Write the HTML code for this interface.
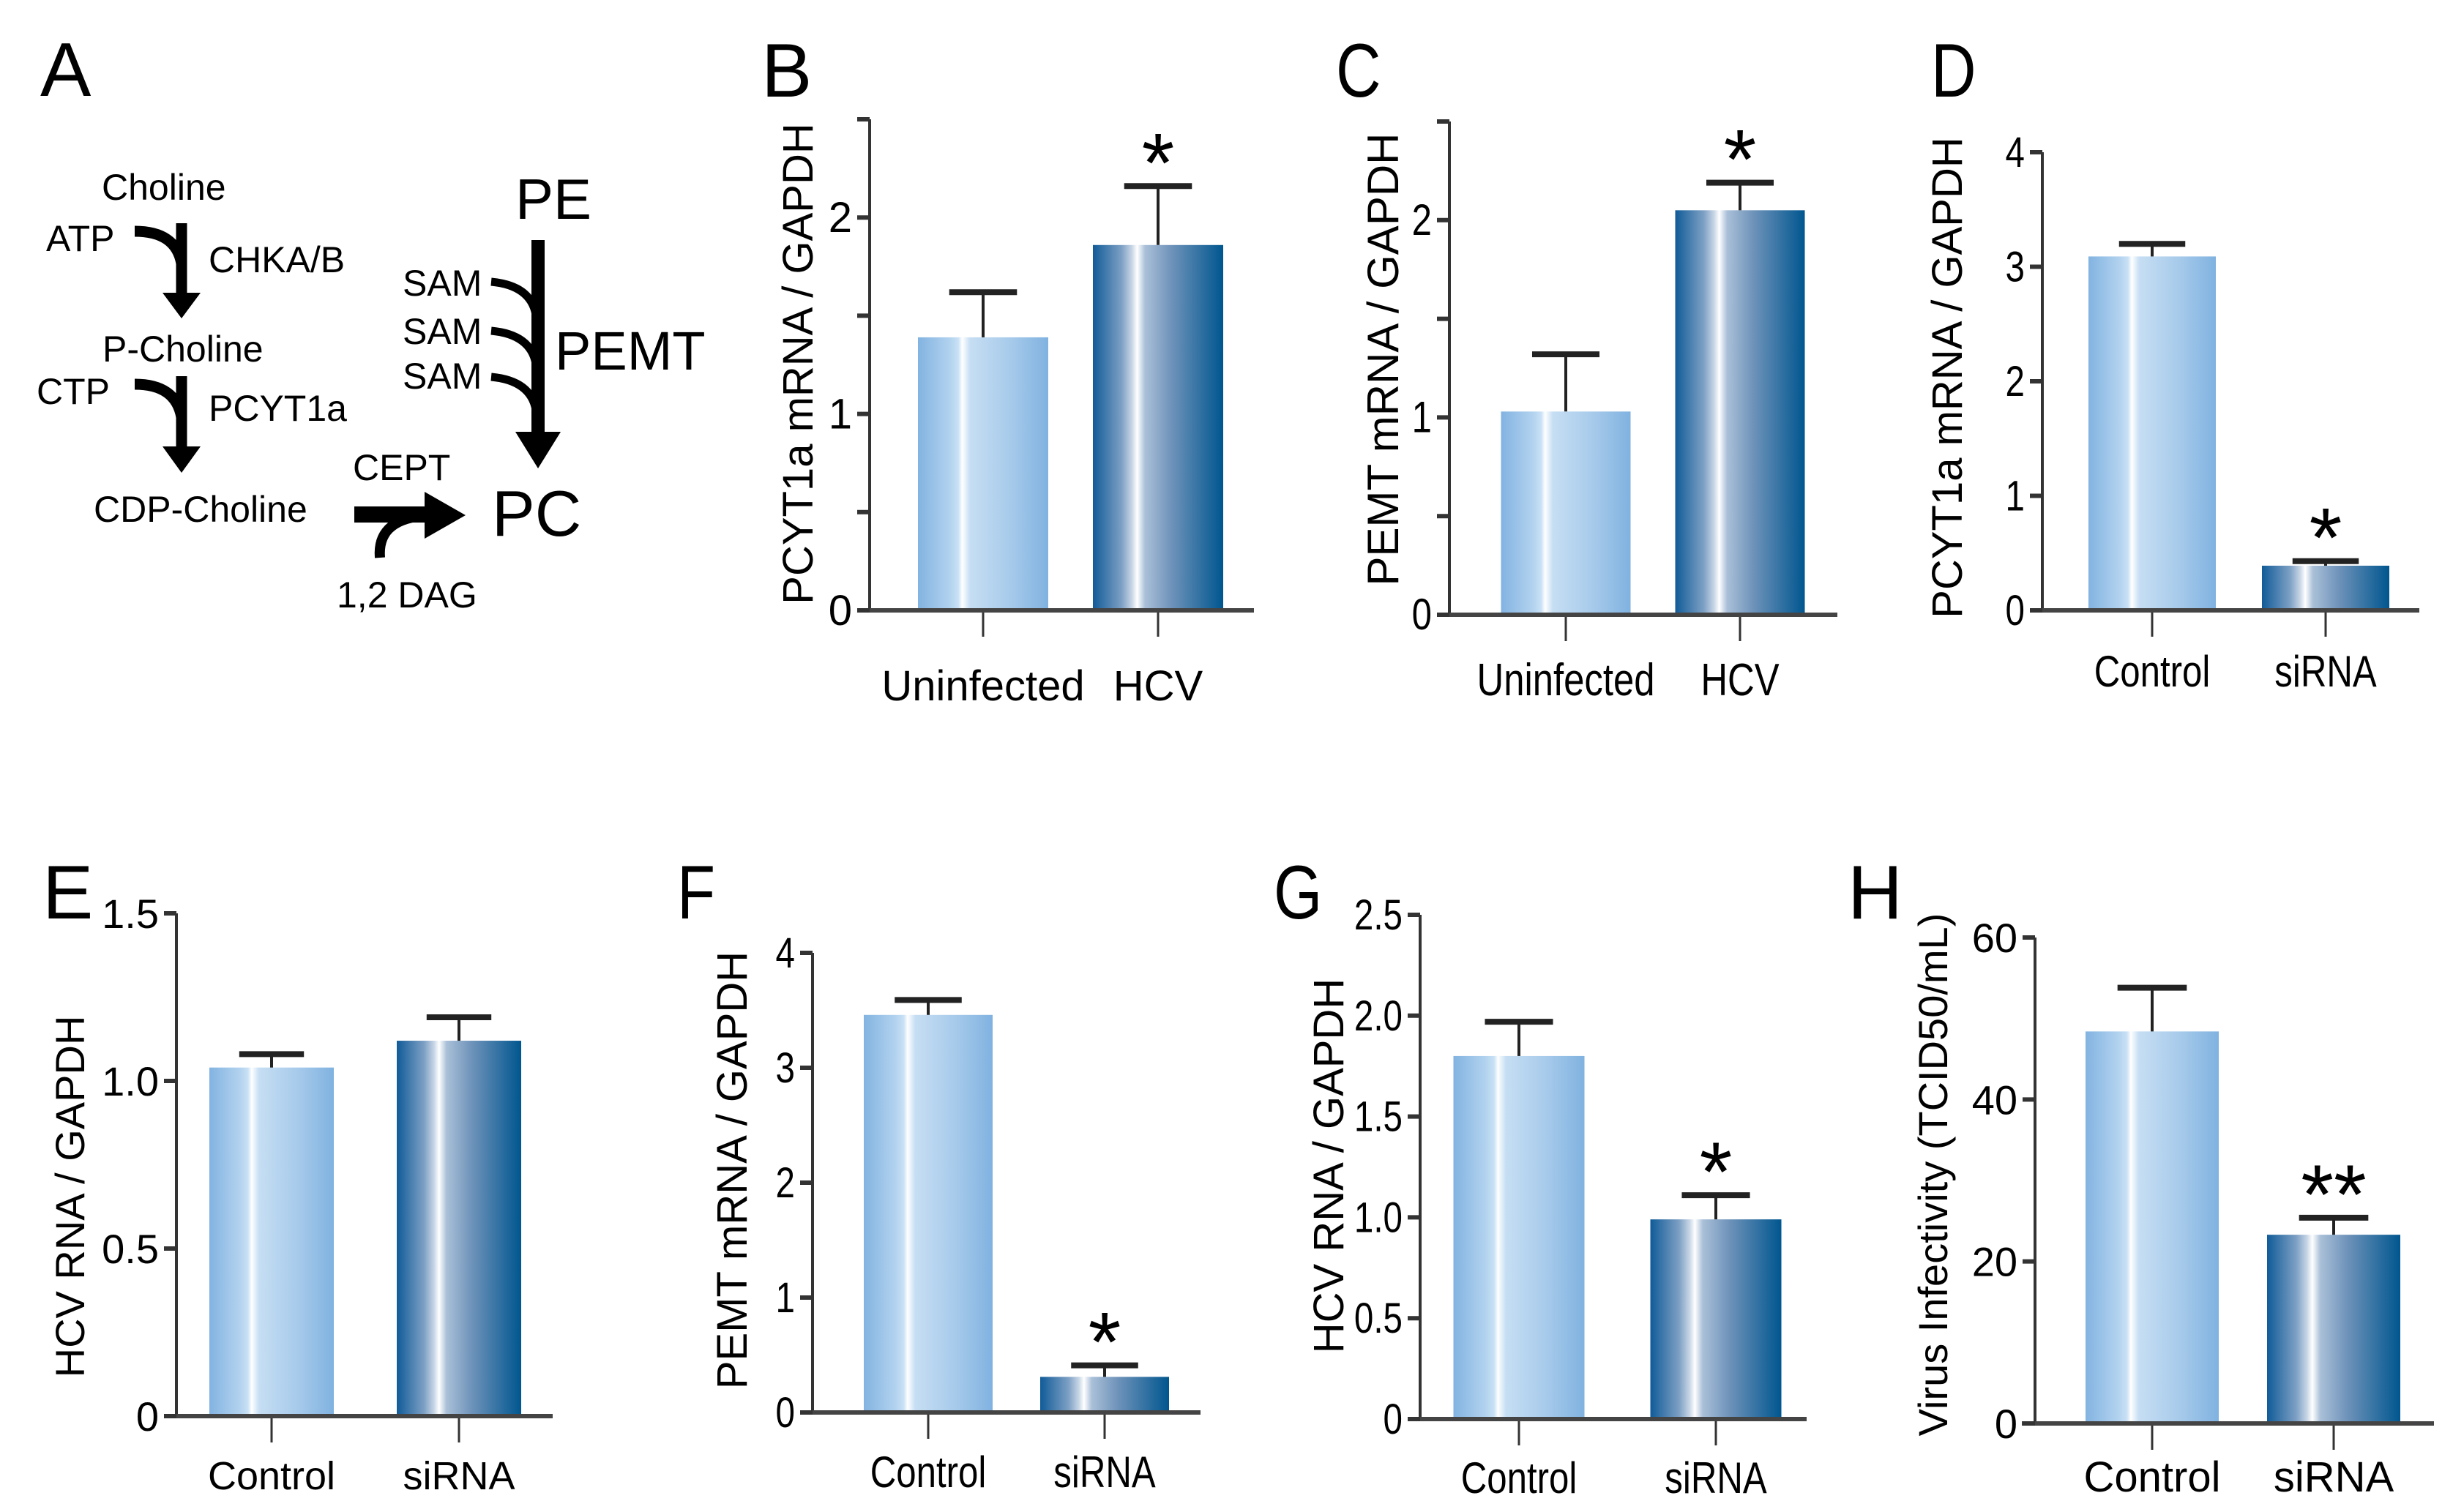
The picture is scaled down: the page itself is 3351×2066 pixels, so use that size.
<!DOCTYPE html>
<html><head><meta charset="utf-8"><style>
html,body{margin:0;padding:0;background:#fff;}
svg{display:block;font-family:"Liberation Sans",sans-serif;}
</style></head><body>
<svg id="fig" width="3351" height="2066" viewBox="0 0 3351 2066" xmlns="http://www.w3.org/2000/svg">
<defs>
<linearGradient id="gLight" x1="0" x2="1" y1="0" y2="0">
<stop offset="0" stop-color="#82b3e1"/><stop offset="0.25" stop-color="#b3d3ef"/><stop offset="0.31" stop-color="#c9e1f5"/><stop offset="0.34" stop-color="#ffffff"/><stop offset="0.40" stop-color="#c6def3"/><stop offset="0.7" stop-color="#a8cbeb"/><stop offset="1" stop-color="#80b2e0"/>
</linearGradient>
<linearGradient id="gDark" x1="0" x2="1" y1="0" y2="0">
<stop offset="0" stop-color="#105b98"/><stop offset="0.22" stop-color="#7da0c4"/><stop offset="0.30" stop-color="#c8d6e6"/><stop offset="0.34" stop-color="#ffffff"/><stop offset="0.40" stop-color="#aac0d8"/><stop offset="0.6" stop-color="#6f93ba"/><stop offset="1" stop-color="#00568f"/>
</linearGradient>
</defs>
<g id="panelA" fill="#000">
<text x="55" y="131" font-size="104">A</text>
<g font-size="50">
<text x="139" y="273">Choline</text>
<text x="63" y="343">ATP</text>
<text x="285" y="372">CHKA/B</text>
<text x="140" y="494">P-Choline</text>
<text x="50" y="552">CTP</text>
<text x="285" y="575">PCYT1a</text>
<text x="128" y="713">CDP-Choline</text>
<text x="482" y="656">CEPT</text>
<text x="460" y="830">1,2 DAG</text>
<text x="550" y="404">SAM</text>
<text x="550" y="470">SAM</text>
<text x="550" y="531">SAM</text>
</g>
<text x="704" y="299" font-size="78">PE</text>
<text x="758" y="505" font-size="74">PEMT</text>
<text x="672" y="732" font-size="88">PC</text>
<g fill="none" stroke="#000" stroke-width="15">
<path d="M184,316 Q240,316 248,360"/><path d="M248,305 V410"/>
<path d="M184,525 Q240,525 248,570"/><path d="M248,514 V620"/>
<path d="M735,328 V600" stroke-width="18"/>
<path d="M671,385 Q725,390 732,430" stroke-width="11"/>
<path d="M671,452 Q725,457 732,497" stroke-width="11"/>
<path d="M671,515 Q725,520 732,560" stroke-width="11"/>
<path d="M484,703 H600" stroke-width="22"/>
<path d="M519,762 Q515,712 575,705" stroke-width="14"/>
</g>
<polygon points="222,400 274,400 248,435"/>
<polygon points="222,610 274,610 248,646"/>
<polygon points="704,590 766,590 735,640"/>
<polygon points="580,672 580,736 636,704"/>
</g>
<g id="charts"></g>
</svg>
<script>
// ---- data ----
var bCategories = ["Uninfected", "HCV"];
var bValues = [1.39, 1.86];
var bErrors = [0.23, 0.30];
var bTicks = [0, 1, 2];
var cCategories = ["Uninfected", "HCV"];
var cValues = [1.03, 2.05];
var cErrors = [0.29, 0.14];
var cTicks = [0, 1, 2];
var dCategories = ["Control", "siRNA"];
var dValues = [3.09, 0.39];
var dErrors = [0.11, 0.04];
var dTicks = [0, 1, 2, 3, 4];
var eCategories = ["Control", "siRNA"];
var eValues = [1.04, 1.12];
var eErrors = [0.04, 0.07];
var eTicks = ["0", "0.5", "1.0", "1.5"];
var fCategories = ["Control", "siRNA"];
var fValues = [3.46, 0.31];
var fErrors = [0.13, 0.10];
var fTicks = [0, 1, 2, 3, 4];
var gCategories = ["Control", "siRNA"];
var gValues = [1.80, 0.99];
var gErrors = [0.17, 0.12];
var gTicks = ["0", "0.5", "1.0", "1.5", "2.0", "2.5"];
var hCategories = ["Control", "siRNA"];
var hValues = [48.4, 23.3];
var hErrors = [5.4, 2.1];
var hTicks = [0, 20, 40, 60];
var stars = { b: ["", "*"], c: ["", "*"], d: ["", "*"], e: ["", ""], f: ["", "*"], g: ["", "*"], h: ["", "**"] };

var NS = "http://www.w3.org/2000/svg";
var root = document.getElementById("charts");
function mk(tag, attrs, parent) {
  var e = document.createElementNS(NS, tag);
  for (var k in attrs) e.setAttribute(k, attrs[k]);
  (parent || root).appendChild(e);
  return e;
}
function txt(s, x, y, size, anchor, sx, parent) {
  var t = mk("text", { "font-size": size, "text-anchor": anchor || "middle",
    transform: "translate(" + x + "," + y + ") scale(" + (sx || 1) + ",1)" }, parent);
  t.textContent = s;
  return t;
}

var panels = [
  { id: "b", letter: "B", lx: 1040, ly: 132, cats: bCategories, vals: bValues, errs: bErrors, ticks: bTicks, minor: 0.5,
    max: 2.5, top: 163, zero: 834, ax: 1188, x0: 1173, x1: 1713, centers: [1343, 1582], bw: 178, sx: 1,
    title: "PCYT1a mRNA / GAPDH", tx: 1090, ty: 497, catY: 957, fs: 58, tfs: 58 },
  { id: "c", letter: "C", lx: 1825, ly: 132, cats: cCategories, vals: cValues, errs: cErrors, ticks: cTicks, minor: 0.5,
    max: 2.5, top: 166, zero: 840, ax: 1980, x0: 1970, x1: 2510, centers: [2139, 2377], bw: 177, sx: 0.82,
    title: "PEMT mRNA / GAPDH", tx: 1890, ty: 491, catY: 950, fs: 62, tfs: 60 },
  { id: "d", letter: "D", lx: 2638, ly: 132, cats: dCategories, vals: dValues, errs: dErrors, ticks: dTicks, minor: 1,
    max: 4, top: 208, zero: 834, ax: 2790, x0: 2775, x1: 3305, centers: [2940, 3177], bw: 174, sx: 0.82,
    title: "PCYT1a mRNA / GAPDH", tx: 2660, ty: 516, catY: 938, fs: 60, tfs: 58 },
  { id: "e", letter: "E", lx: 58, ly: 1255, cats: eCategories, vals: eValues, errs: eErrors, ticks: eTicks, minor: 0.5,
    max: 1.5, top: 1248, zero: 1935, ax: 241, x0: 229, x1: 755, centers: [371, 627], bw: 170, sx: 1,
    title: "HCV RNA / GAPDH", tx: 95, ty: 1635, catY: 2035, fs: 54, tfs: 56 },
  { id: "f", letter: "F", lx: 925, ly: 1255, cats: fCategories, vals: fValues, errs: fErrors, ticks: fTicks, minor: 1,
    max: 4, top: 1302, zero: 1930, ax: 1110, x0: 1095, x1: 1640, centers: [1268, 1509], bw: 176, sx: 0.82,
    title: "PEMT mRNA / GAPDH", tx: 1000, ty: 1599, catY: 2032, fs: 60, tfs: 58 },
  { id: "g", letter: "G", lx: 1740, ly: 1255, cats: gCategories, vals: gValues, errs: gErrors, ticks: gTicks, minor: 0.5,
    max: 2.5, top: 1250, zero: 1939, ax: 1940, x0: 1930, x1: 2468, centers: [2075, 2344], bw: 179, sx: 0.82,
    title: "HCV RNA / GAPDH", tx: 1815, ty: 1593, catY: 2040, fs: 60, tfs: 58 },
  { id: "h", letter: "H", lx: 2524, ly: 1255, cats: hCategories, vals: hValues, errs: hErrors, ticks: hTicks, minor: 20,
    max: 60, top: 1281, zero: 1945, ax: 2780, x0: 2762, x1: 3325, centers: [2940, 3188], bw: 182, sx: 1,
    title: "Virus Infectivity (TCID50/mL)", tx: 2640, ty: 1605, catY: 2038, fs: 58, tfs: 56 }
];

panels.forEach(function (p) {
  var g = mk("g", {});
  
  
  function y(v) { return p.zero - (v / p.max) * (p.zero - p.top); }
  var lt = txt(p.letter, p.lx, p.ly, 104, "start", p.sx, g);
  
  
  p.vals.forEach(function (v, i) {
    var r = mk("rect", { x: p.centers[i] - p.bw / 2, y: y(v), width: p.bw, height: p.zero - y(v),
      fill: i === 0 ? "url(#gLight)" : "url(#gDark)" }, g);
    
    
    var e = mk("g", { stroke: "#222" }, g);
    
    
    var et = y(v + p.errs[i]);
    mk("line", { x1: p.centers[i], x2: p.centers[i], y1: y(v), y2: et, "stroke-width": 4 }, e);
    mk("line", { x1: p.centers[i] - p.bw * 0.26, x2: p.centers[i] + p.bw * 0.26, y1: et, y2: et, "stroke-width": 8 }, e);
    if (stars[p.id][i]) {
      var s = txt(stars[p.id][i], p.centers[i], et + 8, 115, "middle", 1, g);
      
      
    }
    var cl = txt(p.cats[i], p.centers[i], p.catY, p.fs, "middle", p.sx, g);
    
    
    mk("line", { x1: p.centers[i], x2: p.centers[i], y1: p.zero, y2: p.zero + 36, stroke: "#333", "stroke-width": 3 }, g);
  });
  var ya = mk("line", { x1: p.ax, x2: p.ax, y1: p.top, y2: p.zero, stroke: "#333", "stroke-width": 4 }, g);
  
  
  var xa = mk("line", { x1: p.x0, x2: p.x1, y1: p.zero, y2: p.zero, stroke: "#444", "stroke-width": 6 }, g);
  
  
  for (var v = 0; v <= p.max + 1e-9; v += p.minor) {
    mk("line", { x1: p.ax - 17, x2: p.ax, y1: y(v), y2: y(v), stroke: "#333", "stroke-width": 6 }, g);
  }
  p.ticks.forEach(function (t) {
    var tl = txt(String(t), p.ax - 24, y(parseFloat(t)) + 20, p.tfs, "end", p.sx, g);
    
    
  });
  var tt = mk("text", { "font-size": p.tfs, "text-anchor": "middle",
    transform: "translate(" + (p.tx + 20) + "," + p.ty + ") rotate(-90)" }, g);
  tt.textContent = p.title;
  
  
});
</script>
</body></html>
